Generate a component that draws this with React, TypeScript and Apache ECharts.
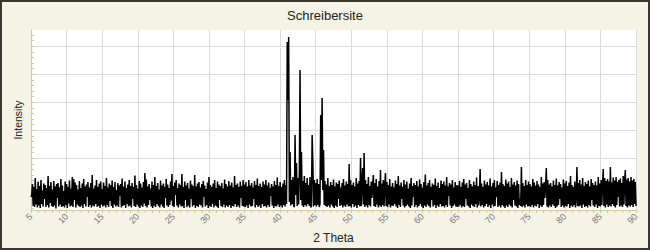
import React, { useEffect, useRef } from "react";
import * as echarts from "echarts";

// 2-Theta sampling of the scan
const thetaStart = 5;
const thetaStep = 0.1;

// Intensity readings (counts), 5.0° – 14.9°
const counts05to15 = [
  130, 150, 260, 40, 230, 30, 320, 55, 210, 25,
  285, 45, 240, 20, 300, 60, 195, 35, 265, 110,
  250, 30, 220, 50, 340, 25, 240, 70, 280, 40,
  205, 30, 290, 45, 235, 15, 260, 120, 270, 35,
  225, 55, 310, 30, 245, 40, 190, 25, 285, 50,
  260, 20, 230, 65, 295, 35, 215, 45, 330, 30,
  310, 100, 275, 25, 250, 55, 205, 40, 290, 30,
  220, 45, 265, 20, 310, 60, 235, 35, 255, 130,
  280, 30, 225, 50, 270, 25, 350, 45, 215, 35,
  245, 60, 300, 30, 230, 40, 265, 20, 285, 55,
];
// 15.0° – 24.9°
const counts15to25 = [
  210, 35, 275, 45, 240, 25, 320, 50, 225, 30,
  265, 90, 250, 40, 295, 20, 230, 55, 280, 35,
  200, 45, 270, 30, 245, 140, 260, 25, 315, 40,
  235, 50, 285, 20, 220, 60, 255, 35, 300, 45,
  240, 25, 270, 110, 230, 40, 345, 30, 250, 55,
  215, 35, 290, 20, 265, 45, 225, 30, 280, 65,
  370, 40, 305, 25, 235, 50, 260, 100, 215, 35,
  285, 20, 250, 45, 330, 30, 240, 60, 270, 40,
  205, 25, 295, 55, 245, 35, 265, 20, 230, 120,
  310, 45, 255, 30, 220, 50, 285, 95, 360, 40,
];
// 25.0° – 34.9°
const counts25to35 = [
  240, 30, 275, 150, 300, 45, 220, 25, 265, 55,
  250, 35, 360, 40, 230, 20, 285, 100, 245, 30,
  270, 45, 215, 25, 295, 110, 255, 35, 240, 50,
  350, 20, 235, 40, 265, 30, 280, 55, 225, 45,
  260, 25, 290, 130, 245, 35, 210, 50, 275, 20,
  330, 40, 250, 30, 230, 60, 265, 25, 300, 45,
  220, 35, 285, 20, 255, 100, 240, 40, 270, 30,
  215, 55, 305, 25, 260, 45, 235, 30, 290, 50,
  245, 20, 275, 40, 225, 35, 340, 60, 250, 30,
  265, 45, 230, 25, 285, 120, 240, 40, 300, 35,
];
// 35.0° – 44.9° (main reflections near 41.1°, 42.8°, 44.5°)
const counts35to45 = [
  255, 30, 280, 45, 235, 20, 300, 55, 245, 35,
  270, 40, 225, 110, 290, 25, 250, 50, 315, 30,
  240, 45, 265, 20, 230, 60, 285, 35, 255, 40,
  300, 25, 245, 50, 275, 30, 220, 140, 260, 45,
  235, 20, 290, 40, 250, 35, 325, 55, 240, 30,
  280, 45, 230, 25, 265, 50, 300, 35, 250, 60,
  1680, 1100, 1730, 80, 580, 45, 300, 60, 330, 40,
  30, 750, 150, 470, 40, 320, 55, 370, 1400, 100,
  580, 45, 290, 30, 340, 50, 270, 35, 320, 60,
  250, 40, 330, 25, 45, 750, 480, 35, 300, 50,
];
// 45.0° – 54.9°
const counts45to55 = [
  270, 35, 310, 50, 260, 30, 60, 950, 300, 1120,
  200, 600, 50, 290, 40, 255, 30, 320, 45, 240,
  25, 280, 55, 250, 35, 305, 20, 235, 45, 275,
  30, 260, 110, 295, 40, 225, 50, 270, 25, 310,
  45, 245, 30, 285, 55, 260, 35, 460, 40, 300,
  25, 250, 60, 275, 30, 235, 45, 320, 20, 265,
  50, 290, 35, 520, 40, 270, 420, 55, 570, 30,
  300, 45, 260, 25, 330, 50, 240, 35, 285, 120,
  255, 350, 40, 270, 30, 310, 55, 235, 25, 290,
  45, 400, 30, 265, 50, 300, 35, 245, 370, 40,
];
// 55.0° – 64.9°
const counts55to65 = [
  280, 30, 250, 55, 310, 25, 235, 45, 270, 40,
  225, 60, 295, 35, 260, 20, 340, 50, 245, 30,
  275, 110, 230, 45, 300, 25, 255, 40, 285, 55,
  215, 35, 265, 20, 320, 45, 240, 130, 270, 30,
  250, 50, 290, 25, 235, 40, 305, 60, 260, 35,
  225, 20, 280, 45, 355, 30, 245, 55, 270, 40,
  300, 25, 230, 100, 265, 35, 250, 50, 315, 20,
  240, 45, 275, 30, 220, 60, 295, 35, 260, 40,
  285, 25, 245, 50, 330, 30, 235, 140, 270, 45,
  255, 20, 300, 40, 225, 55, 280, 35, 250, 30,
];
// 65.0° – 74.9°
const counts65to75 = [
  245, 35, 290, 50, 230, 25, 275, 40, 310, 30,
  255, 110, 270, 45, 220, 35, 300, 20, 260, 55,
  235, 40, 285, 30, 250, 60, 325, 25, 240, 45,
  120, 410, 35, 265, 50, 230, 25, 295, 40, 255,
  60, 280, 30, 245, 45, 315, 20, 235, 55, 270,
  35, 300, 40, 225, 130, 290, 30, 250, 45, 275,
  25, 380, 50, 260, 35, 240, 20, 305, 45, 265,
  30, 285, 55, 230, 40, 320, 25, 255, 100, 280,
  45, 245, 35, 295, 20, 260, 50, 110, 40, 430,
  30, 270, 45, 240, 25, 300, 55, 250, 35, 285,
];
// 75.0° – 84.9°
const counts75to85 = [
  40, 260, 30, 235, 50, 310, 25, 275, 45, 245,
  35, 290, 60, 255, 20, 230, 45, 330, 30, 265,
  50, 280, 120, 240, 420, 35, 300, 25, 255, 45,
  270, 30, 235, 55, 295, 40, 250, 20, 315, 35,
  245, 50, 280, 110, 260, 30, 225, 45, 305, 25,
  265, 40, 290, 35, 240, 60, 275, 20, 340, 45,
  250, 30, 230, 50, 285, 25, 130, 430, 40, 270,
  35, 300, 45, 255, 20, 320, 55, 240, 30, 280,
  40, 260, 25, 295, 50, 235, 35, 310, 100, 270,
  45, 250, 30, 285, 55, 245, 20, 330, 40, 265,
];
// 85.0° – 90.0°
const counts85to90 = [
  35, 300, 50, 270, 410, 40, 320, 25, 290, 55,
  310, 30, 285, 45, 430, 35, 275, 60, 325, 40,
  295, 25, 330, 50, 280, 130, 300, 35, 315, 45,
  270, 30, 340, 55, 290, 400, 40, 305, 25, 320,
  45, 285, 35, 330, 50, 295, 30, 310, 60, 280,
  40,
];

// Axis settings
const thetaMin = 5;
const thetaMax = 90;
const thetaTickStep = 5;
const intensityMax = 1800;
// horizontal grid lines and minor ticks of the (unlabelled) intensity axis
const intensityGridLines = [240, 520, 800, 1080, 1360, 1640];
const intensityMinorTicks = [
  16, 72, 128, 184, 296, 352, 408, 464, 576, 632, 688, 744, 856, 912, 968,
  1024, 1136, 1192, 1248, 1304, 1416, 1472, 1528, 1584, 1696, 1752,
];

const FONT = "'Liberation Sans', Arial, sans-serif";
const AXIS_COLOR = "#d6cb8a";
const GRID_COLOR = "#dadada";

export default function App() {
  const ref = useRef<HTMLDivElement>(null);

  useEffect(() => {
    document.body.style.margin = "0";
    if (!ref.current) return;
    const chart = echarts.init(ref.current, undefined, { renderer: "svg" });

    const allCounts = [
      ...counts05to15,
      ...counts15to25,
      ...counts25to35,
      ...counts35to45,
      ...counts45to55,
      ...counts55to65,
      ...counts65to75,
      ...counts75to85,
      ...counts85to90,
    ];
    const pattern = allCounts.map((c, i) => [
      +(thetaStart + i * thetaStep).toFixed(1),
      c,
    ]);

    const guides = [
      ...intensityGridLines.map((v) => [thetaMin, v, 0]),
      ...intensityMinorTicks.map((v) => [thetaMin, v, 1]),
      ...intensityGridLines.map((v) => [thetaMin, v, 1]),
    ];

    chart.setOption({
      animation: false,
      backgroundColor: "#f5f2e6",
      title: {
        text: "Schreibersite",
        left: "center",
        top: 4,
        textStyle: {
          fontSize: 13,
          fontWeight: "normal",
          color: "#222",
          fontFamily: FONT,
        },
      },
      graphic: [
        {
          type: "rect",
          shape: { x: 1, y: 1, width: 648, height: 248 },
          style: { fill: "none", stroke: "#39372f", lineWidth: 2 },
          silent: true,
          z: 100,
        },
      ],
      grid: {
        left: 31,
        right: 14,
        top: 30,
        bottom: 40,
        show: true,
        backgroundColor: "#ffffff",
        borderWidth: 0,
      },
      xAxis: {
        type: "value",
        min: thetaMin,
        max: thetaMax,
        interval: thetaTickStep,
        name: "2 Theta",
        nameLocation: "middle",
        nameGap: 20,
        nameTextStyle: { fontSize: 12, color: "#222", fontFamily: FONT },
        axisLine: { show: true, lineStyle: { color: AXIS_COLOR, width: 1 } },
        axisTick: { show: true, length: 3, lineStyle: { color: AXIS_COLOR } },
        minorTick: {
          show: true,
          splitNumber: 5,
          length: 3,
          lineStyle: { color: AXIS_COLOR },
        },
        splitLine: { show: true, lineStyle: { color: GRID_COLOR, width: 1 } },
        axisLabel: {
          rotate: 45,
          fontSize: 9,
          color: "#777",
          margin: 5,
          fontFamily: FONT,
          showMinLabel: true,
          showMaxLabel: true,
        },
      },
      yAxis: {
        type: "value",
        min: 0,
        max: intensityMax,
        name: "Intensity",
        nameLocation: "middle",
        nameGap: 8,
        nameTextStyle: { fontSize: 10.5, color: "#222", fontFamily: FONT },
        axisLine: { show: true, lineStyle: { color: AXIS_COLOR, width: 1 } },
        axisTick: { show: false },
        axisLabel: { show: false },
        splitLine: { show: false },
      },
      series: [
        {
          type: "custom",
          silent: true,
          z: 1,
          data: guides,
          renderItem: (params: any, api: any) => {
            const cs = params.coordSys;
            const p = api.coord([api.value(0), api.value(1)]);
            const y = Math.round(p[1]) + 0.5;
            if (api.value(2) === 0) {
              return {
                type: "line",
                shape: { x1: cs.x, y1: y, x2: cs.x + cs.width, y2: y },
                style: { stroke: GRID_COLOR, lineWidth: 1 },
              };
            }
            return {
              type: "line",
              shape: { x1: cs.x, y1: y, x2: cs.x + 3, y2: y },
              style: { stroke: AXIS_COLOR, lineWidth: 1 },
            };
          },
        },
        {
          type: "line",
          data: pattern,
          z: 3,
          silent: true,
          symbol: "none",
          showSymbol: false,
          lineStyle: { color: "#000000", width: 1.5, join: "miter", miterLimit: 2 },
        },
      ],
    });

    return () => chart.dispose();
  }, []);

  return (
    <div
      ref={ref}
      style={{ position: "absolute", left: 0, top: 0, width: 650, height: 250 }}
    />
  );
}
